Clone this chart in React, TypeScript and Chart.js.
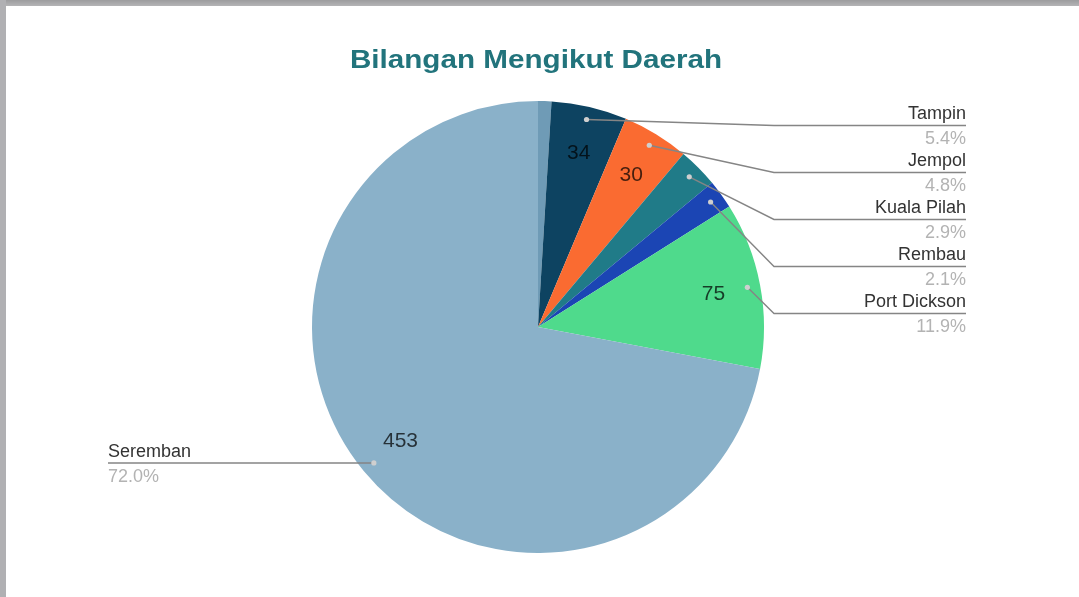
import React, { useEffect, useRef } from "react";
import { Chart, registerables } from "chart.js";

Chart.register(...registerables);

const districts = ["Jelebu", "Tampin", "Jempol", "Kuala Pilah", "Rembau", "Port Dickson", "Seremban"];
const counts = [6, 34, 30, 18, 13, 75, 453];
const sliceColors = ["#6f9bb6", "#0d4361", "#fa6b31", "#207b88", "#1b45b4", "#4fda8c", "#8ab1c9"];
const chartTitle = "Bilangan Mengikut Daerah";

const FONT = "'Liberation Sans', Arial, sans-serif";
const LABEL_RIGHT_X = 966;
const LABEL_LEFT_X = 108;
const LABEL_STEP = 47;

const labelPlugin = {
  id: "pieLabels",
  beforeDraw(chart: any) {
    const ctx = chart.ctx as CanvasRenderingContext2D;
    ctx.save();
    ctx.fillStyle = "#ffffff";
    ctx.fillRect(0, 0, chart.width, chart.height);
    const gTop = ctx.createLinearGradient(0, 0, 0, 6);
    gTop.addColorStop(0, "#9c9c9e");
    gTop.addColorStop(1, "#b4b4b6");
    ctx.fillStyle = gTop;
    ctx.fillRect(0, 0, chart.width, 6);
    ctx.fillStyle = "#b0b0b3";
    ctx.fillRect(0, 0, 6, chart.height);
    ctx.restore();
  },
  afterDraw(chart: any) {
    const ctx = chart.ctx as CanvasRenderingContext2D;
    const meta = chart.getDatasetMeta(0);
    const data = chart.data.datasets[0].data as number[];
    const names = chart.data.labels as string[];
    const total = data.reduce((a, b) => a + b, 0);

    ctx.save();
    // title
    ctx.font = `bold 26px ${FONT}`;
    ctx.fillStyle = "#22747c";
    ctx.textAlign = "center";
    ctx.textBaseline = "alphabetic";
    ctx.save();
    ctx.translate(536, 68);
    ctx.scale(1.14, 1);
    ctx.fillText(chartTitle, 0, 0);
    ctx.restore();

    const right: any[] = [];
    const left: any[] = [];
    meta.data.forEach((arc: any, i: number) => {
      const p = arc.getProps(["x", "y", "startAngle", "endAngle", "outerRadius"], true);
      const mid = (p.startAngle + p.endAngle) / 2;
      const frac = data[i] / total;
      if (frac > 0.04) {
        const r = p.outerRadius * 0.79;
        ctx.font = `21px ${FONT}`;
        ctx.fillStyle = "rgba(0,0,0,0.72)";
        ctx.textAlign = "center";
        ctx.textBaseline = "middle";
        ctx.fillText(String(data[i]), p.x + Math.cos(mid) * r, p.y + Math.sin(mid) * r);
      }
      if (frac < 0.02) return;
      const dr = p.outerRadius * 0.943;
      const dot = { x: p.x + Math.cos(mid) * dr, y: p.y + Math.sin(mid) * dr };
      const item = { i, dot, frac, cx: p.x, R: p.outerRadius };
      if (Math.cos(mid) >= 0) right.push(item);
      else left.push(item);
    });

    const drawText = (name: string, pct: string, x: number, lineY: number, align: CanvasTextAlign) => {
      ctx.textAlign = align;
      ctx.textBaseline = "alphabetic";
      ctx.font = `18px ${FONT}`;
      ctx.fillStyle = "#333333";
      ctx.fillText(name, x, lineY - 6);
      ctx.fillStyle = "#b3b3b3";
      ctx.fillText(pct, x, lineY + 19);
    };

    ctx.strokeStyle = "#858585";
    ctx.lineWidth = 1.4;
    let prevY = -Infinity;
    right.forEach((it) => {
      const lineY = Math.max(it.dot.y + 6, prevY + LABEL_STEP);
      prevY = lineY;
      const elbowX = it.cx + it.R + 10;
      ctx.beginPath();
      ctx.moveTo(it.dot.x, it.dot.y);
      ctx.lineTo(elbowX, lineY);
      ctx.lineTo(LABEL_RIGHT_X, lineY);
      ctx.stroke();
      drawText(names[it.i], (it.frac * 100).toFixed(1) + "%", LABEL_RIGHT_X, lineY, "right");
    });
    left.forEach((it) => {
      const lineY = it.dot.y;
      ctx.beginPath();
      ctx.moveTo(it.dot.x, it.dot.y);
      ctx.lineTo(LABEL_LEFT_X, lineY);
      ctx.stroke();
      drawText(names[it.i], (it.frac * 100).toFixed(1) + "%", LABEL_LEFT_X, lineY, "left");
    });
    [...right, ...left].forEach((it) => {
      ctx.beginPath();
      ctx.arc(it.dot.x, it.dot.y, 2.6, 0, Math.PI * 2);
      ctx.fillStyle = "#cfcfcf";
      ctx.fill();
    });
    ctx.restore();
  },
};

export default function App() {
  const ref = useRef<HTMLCanvasElement>(null);
  useEffect(() => {
    document.body.style.margin = "0";
    const chart = new Chart(ref.current as HTMLCanvasElement, {
      type: "pie",
      data: {
        labels: districts,
        datasets: [{ data: counts, backgroundColor: sliceColors, borderWidth: 0 }],
      },
      options: {
        responsive: false,
        animation: false,
        layout: { padding: { left: 311, right: 314, top: 101, bottom: 44 } },
        plugins: {
          legend: { display: false },
          title: { display: false },
          tooltip: { enabled: false },
        },
      },
      plugins: [labelPlugin],
    } as any);
    return () => chart.destroy();
  }, []);
  return (
    <div style={{ position: "fixed", left: 0, top: 0, width: 1079, height: 597 }}>
      <canvas ref={ref} width={1079} height={597} style={{ display: "block" }} />
    </div>
  );
}
